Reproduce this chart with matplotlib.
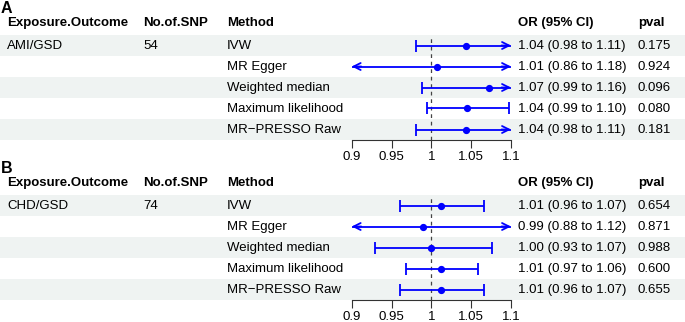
import matplotlib.pyplot as plt
import numpy as np

plt.rcParams["font.family"] = ["Liberation Sans", "DejaVu Sans"]

W, H = 685, 322

METHODS = ["IVW", "MR Egger", "Weighted median", "Maximum likelihood", "MR\u2212PRESSO Raw"]
HEADERS = ["Exposure.Outcome", "No.of.SNP", "Method", "OR (95% CI)", "pval"]

PANEL_LABELS = ["A", "B"]
EXPOSURES = ["AMI/GSD", "CHD/GSD"]
N_SNP = ["54", "74"]

OR_A = [1.043, 1.007, 1.072, 1.045, 1.043]
LO_A = [0.981, 0.861, 0.988, 0.995, 0.981]
HI_A = [1.110, 1.180, 1.160, 1.098, 1.110]
CI_TEXT_A = ["1.04 (0.98 to 1.11)", "1.01 (0.86 to 1.18)", "1.07 (0.99 to 1.16)",
             "1.04 (0.99 to 1.10)", "1.04 (0.98 to 1.11)"]
PVAL_A = ["0.175", "0.924", "0.096", "0.080", "0.181"]

OR_B = [1.012, 0.990, 0.999, 1.012, 1.012]
LO_B = [0.961, 0.880, 0.929, 0.968, 0.961]
HI_B = [1.066, 1.120, 1.076, 1.059, 1.066]
CI_TEXT_B = ["1.01 (0.96 to 1.07)", "0.99 (0.88 to 1.12)", "1.00 (0.93 to 1.07)",
             "1.01 (0.97 to 1.06)", "1.01 (0.96 to 1.07)"]
PVAL_B = ["0.654", "0.871", "0.988", "0.600", "0.655"]

XTICKS = [0.9, 0.95, 1.0, 1.05, 1.1]
XTICK_LABELS = ["0.9", "0.95", "1", "1.05", "1.1"]
XLIM = (0.9, 1.1)

BAND = "#eff3f2"
BLUE = "#0000ff"
FS = 9.5

# layout in pixels
COL_X = [7, 143, 227, 518, 638]
ROW_H = 21
FOREST_X0, FOREST_X1 = 351.7, 511.0


def draw_panel(fig, bg, top, label, exposure, nsnp, ors, los, his, ci_text, pvals):
    bg.text(1, top + 0.5, label, fontsize=11.5, fontweight="bold", va="top", ha="left")
    header_y = top + 23
    for x, h in zip(COL_X, HEADERS):
        bg.text(x, header_y, h, fontsize=FS, fontweight="bold", va="center", ha="left")

    band_top = top + 35
    for i, m in enumerate(METHODS):
        y0 = band_top + i * ROW_H
        if i % 2 == 0:
            bg.axhspan(y0, y0 + ROW_H, color=BAND, lw=0, zorder=0)
        yc = y0 + ROW_H / 2 + 0.5
        if i == 0:
            bg.text(COL_X[0], yc, exposure, fontsize=FS, va="center")
            bg.text(COL_X[1], yc, nsnp, fontsize=FS, va="center")
        bg.text(COL_X[2], yc, m, fontsize=FS, va="center")
        bg.text(COL_X[3], yc, ci_text[i], fontsize=FS, va="center")
        bg.text(COL_X[4], yc, pvals[i], fontsize=FS, va="center")

    n = len(METHODS)
    bottom = band_top + n * ROW_H
    ax = fig.add_axes([FOREST_X0 / W, 1 - bottom / H,
                       (FOREST_X1 - FOREST_X0) / W, (bottom - band_top) / H])
    ax.patch.set_alpha(0)
    ax.set_xlim(*XLIM)
    ax.set_ylim(n, 0)
    for s in ["top", "right", "left"]:
        ax.spines[s].set_visible(False)
    ax.spines["bottom"].set_color("#333333")
    ax.spines["bottom"].set_linewidth(0.8)
    ax.set_yticks([])
    ax.set_xticks(XTICKS)
    ax.set_xticklabels(XTICK_LABELS, fontsize=FS)
    ax.tick_params(axis="x", length=6, width=0.8, color="#333333", pad=2)
    ax.axvline(1.0, color="#444444", lw=0.9, ls=(0, (3, 3)), zorder=1)

    ys = np.arange(n) + 0.5
    lw = 1.3
    for y, est, lo, hi in zip(ys, ors, los, his):
        lo_c, hi_c = max(lo, XLIM[0]), min(hi, XLIM[1])
        ax.plot([lo_c, hi_c], [y, y], color=BLUE, lw=lw, zorder=3, clip_on=False,
                solid_capstyle="butt")
        for end, inner, beyond in [(lo_c, lo_c + 0.012, lo < XLIM[0]),
                                   (hi_c, hi_c - 0.012, hi > XLIM[1])]:
            if beyond:
                ax.annotate("", xy=(end, y), xytext=(inner, y),
                            arrowprops=dict(arrowstyle="->,head_length=0.5,head_width=0.25",
                                            color=BLUE, lw=lw, shrinkA=0, shrinkB=0),
                            annotation_clip=False, zorder=3)
            else:
                ax.plot([end], [y], marker="|", ms=9, mew=lw, color=BLUE, zorder=3,
                        clip_on=False)
        ax.plot([est], [y], marker="o", ms=4.2, color=BLUE, zorder=4, clip_on=False)


fig = plt.figure(figsize=(W / 100, H / 100), dpi=100)
bg = fig.add_axes([0, 0, 1, 1])
bg.set_xlim(0, W)
bg.set_ylim(H, 0)
bg.axis("off")

draw_panel(fig, bg, 0, PANEL_LABELS[0], EXPOSURES[0], N_SNP[0],
           OR_A, LO_A, HI_A, CI_TEXT_A, PVAL_A)
draw_panel(fig, bg, 160, PANEL_LABELS[1], EXPOSURES[1], N_SNP[1],
           OR_B, LO_B, HI_B, CI_TEXT_B, PVAL_B)

fig.savefig("out.png", dpi=100)
